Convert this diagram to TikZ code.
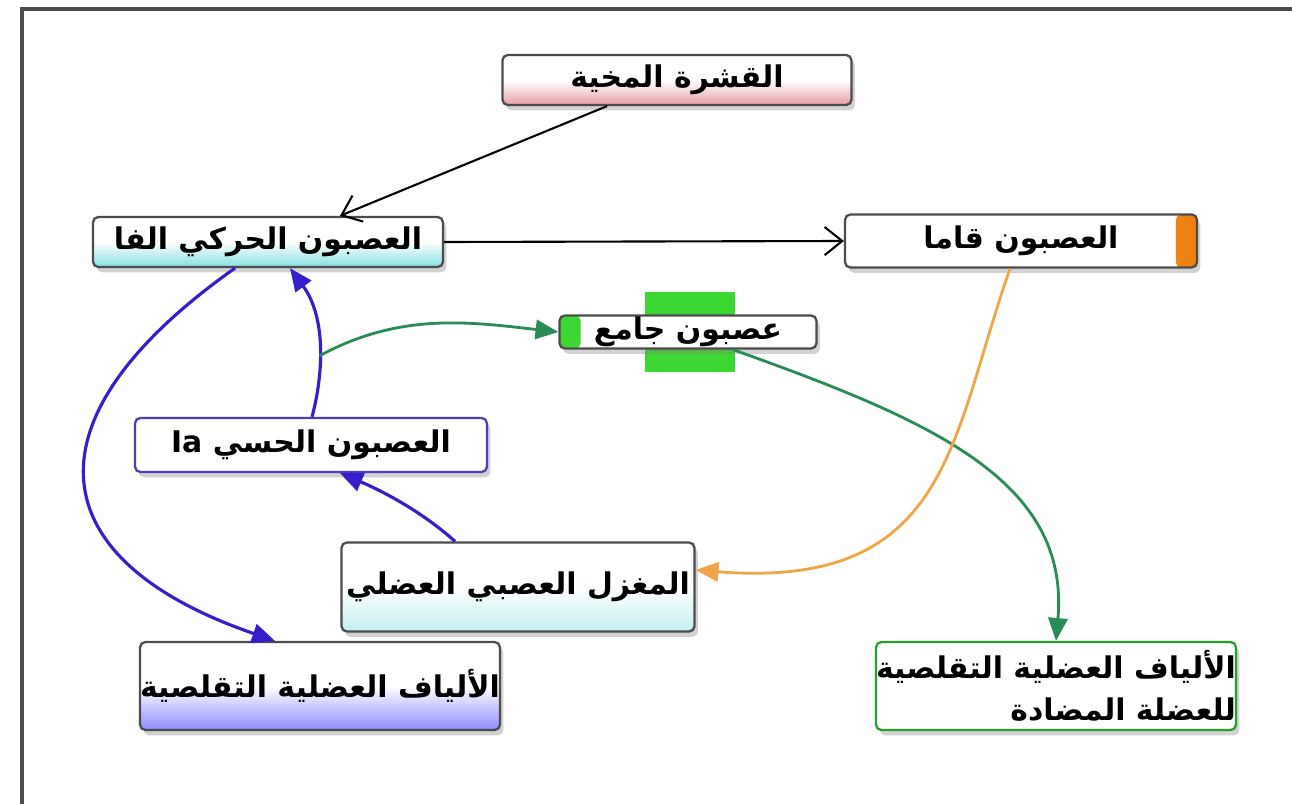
\documentclass[tikz,border=0pt]{standalone}
\usepackage{fontspec}
\usepackage{tikz}
\usetikzlibrary{arrows.meta,shadows,calc}
\newfontfamily\arabicfont[Script=Arabic]{DejaVu Sans}
\TeXXeTstate=1
\newcommand{\rtltext}[1]{\beginR #1\endR}
\definecolor{cortexred}{RGB}{200,40,50}
\definecolor{motorcyan}{RGB}{80,210,215}
\definecolor{gammaorange}{RGB}{240,130,20}
\definecolor{jamigreen}{RGB}{60,215,50}
\definecolor{sensblue}{RGB}{80,60,190}
\definecolor{arrblue}{RGB}{55,30,205}
\definecolor{arrgreen}{RGB}{40,140,85}
\definecolor{arrorange}{RGB}{240,165,70}
\definecolor{antigreen}{RGB}{40,160,40}
\tikzset{
  cbox/.style={draw=#1, line width=1.3pt, rounded corners=3pt, fill=white,
    drop shadow={shadow xshift=2pt,shadow yshift=-3pt,opacity=0.35},
    font=\arabicfont\bfseries\fontsize{17}{24}\selectfont, inner sep=0pt, align=center},
  shadebox/.style={shading=axis, top color=white, bottom color=#1, middle color=white},
  blackarr/.style={-{Straight Barb[length=10pt,width=16pt]}, line width=1.2pt, black},
  bluearr/.style={-{Triangle[length=13pt,width=11pt]}, line width=1.8pt, arrblue},
  greenarr/.style={-{Triangle[length=13pt,width=11pt]}, line width=1.6pt, arrgreen},
  orangearr/.style={-{Triangle[length=13pt,width=11pt]}, line width=1.6pt, arrorange}
}
\begin{document}
\begin{tikzpicture}[x=0.02cm,y=-0.02cm]
\useasboundingbox (0,0) rectangle (1292,804);
\fill[white] (0,0) rectangle (1292,804);
\draw[gray!60!black, line width=2pt] (1292,9) -- (22,9) -- (22,804);

\node[cbox=gray!60!black, shadebox=cortexred!45, minimum width=6.98cm, minimum height=1cm] (cortex) at (677,80) {\rtltext{القشرة المخية}};
\node[cbox=gray!60!black, shadebox=motorcyan!70, minimum width=7cm, minimum height=1cm] (alpha) at (268,242) {\rtltext{العصبون الحركي الفا}};
\node[cbox=gray!60!black, minimum width=7.04cm, minimum height=1.06cm,
  path picture={\fill[gammaorange] ([xshift=-12pt]path picture bounding box.north east) rectangle (path picture bounding box.south east);}] (gamma) at (1021,241) {\rtltext{العصبون قاما}};
\fill[jamigreen] (645,292) rectangle (735,372);
\node[cbox=gray!60!black, minimum width=5.14cm, minimum height=0.66cm, drop shadow={opacity=0},
  path picture={\fill[jamigreen] (path picture bounding box.north west) rectangle ([xshift=12pt]path picture bounding box.south west);}] (jami) at (688,332) {\rtltext{عصبون جامع}};
\node[cbox=sensblue, minimum width=7.04cm, minimum height=1.08cm] (sensory) at (311,445) {\rtltext{العصبون الحسي \beginL Ia\endL}};
\node[cbox=gray!60!black, shadebox=motorcyan!35, minimum width=7.06cm, minimum height=1.78cm] (spindle) at (518,587) {\rtltext{المغزل العصبي العضلي}};
\node[cbox=gray!60!black, shadebox=blue!45, minimum width=7cm, minimum height=1.76cm] (fibres) at (320,686) {\rtltext{الألياف العضلية التقلصية}};
\node[cbox=antigreen, minimum width=7.06cm, minimum height=1.76cm, align=right] (antag) at (1056,686) {\rtltext{الألياف العضلية التقلصية}\\\rtltext{للعضلة المضادة}};

\draw[blackarr] ($(cortex.south)+(-70,0)$) -- ($(alpha.north)+(72,0)$);
\draw[blackarr] (alpha.east) -- (gamma.west);
\draw[bluearr] ($(sensory.north)+(1,0)$) .. controls (322,380) and (328,320) .. coordinate[pos=0.45] (branch) ($(alpha.south)+(22,0)$);
\draw[greenarr] (branch) .. controls (400,312) and (470,322) .. (jami.west);
\draw[greenarr] ($(jami.south)+(45,0)$) .. controls (930,420) and (1070,480) .. (antag.north);
\draw[orangearr] ($(gamma.south)+(-11,0)$) .. controls (950,440) and (950,590) .. ($(spindle.east)+(0,-17)$);
\draw[bluearr] ($(spindle.north)+(-63,0)$) .. controls (420,510) and (380,490) .. ($(sensory.south)+(29,0)$);
\draw[bluearr] ($(alpha.south)+(-33,0)$) .. controls (20,420) and (40,560) .. ($(fibres.north)+(-45,0)$);
\end{tikzpicture}
\end{document}
